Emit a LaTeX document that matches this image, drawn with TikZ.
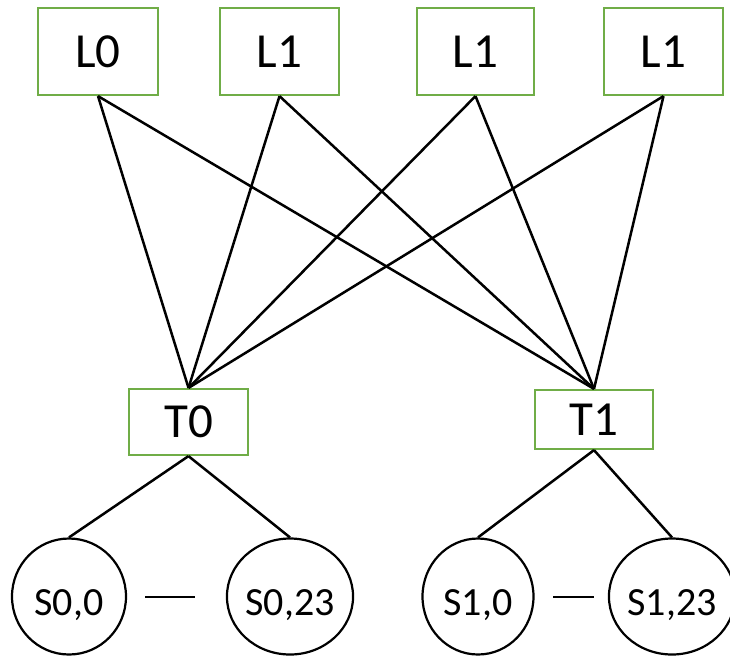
\documentclass[tikz,border=0pt]{standalone}
\usepackage{fontspec}
\setmainfont{Carlito}
\usetikzlibrary{shapes.geometric}
\begin{document}
\begin{tikzpicture}[x=1pt,y=-1pt,
  levelbox/.style={draw=boxgreen,line width=2.2pt,inner sep=0pt,
    font=\fontsize{49}{51}\selectfont},
  sitenode/.style={ellipse,draw=black,line width=2.2pt,inner sep=0pt,
    minimum height=116pt,text height=37pt,text depth=0pt,
    font=\fontsize{40}{42}\selectfont},
  link/.style={draw=black,line width=2.5pt}]
\definecolor{boxgreen}{HTML}{70AD47}
\useasboundingbox (0,0) rectangle (730,657);

% upper level
\node[levelbox,minimum width=120pt,minimum height=87pt] (L0) at (98,51.5) {L0};
\node[levelbox,minimum width=119pt,minimum height=87pt] (L1a) at (279.5,51.5) {L1};
\node[levelbox,minimum width=117pt,minimum height=87pt] (L1b) at (475.5,51.5) {L1};
\node[levelbox,minimum width=119pt,minimum height=87pt] (L1c) at (663.5,51.5) {L1};

% middle level
\node[levelbox,minimum width=119pt,minimum height=66pt] (T0) at (188.5,422) {T0};
\node[levelbox,minimum width=118pt,minimum height=59pt] (T1) at (594,419.5) {T1};

% leaves
\node[sitenode,minimum width=114pt] (S00) at (69,596.5) {S0,0};
\node[sitenode,minimum width=114pt] (S023) at (290,596.5) {S0,23};
\node[sitenode,minimum width=111pt] (S10) at (478,596.5) {S1,0};
\node[sitenode,minimum width=111pt] (S123) at (672,596.5) {S1,23};

% full mesh between the two upper levels
\foreach \l in {L0,L1a,L1b,L1c}{
  \foreach \t in {T0,T1}{
    \draw[link] (\l.south) -- (\t.north);
  }
}

% tree edges
\draw[link] (T0.south) -- (S00.north);
\draw[link] (T0.south) -- (S023.north);
\draw[link] (T1.south) -- (S10.north);
\draw[link] (T1.south) -- (S123.north);

% dashes standing for the omitted sites
\coordinate (d0a) at (145,597);
\coordinate (d0b) at (195,597);
\coordinate (d1a) at (553,597);
\coordinate (d1b) at (594,597);
\draw[link] (d0a) -- (d0b);
\draw[link] (d1a) -- (d1b);
\end{tikzpicture}
\end{document}
